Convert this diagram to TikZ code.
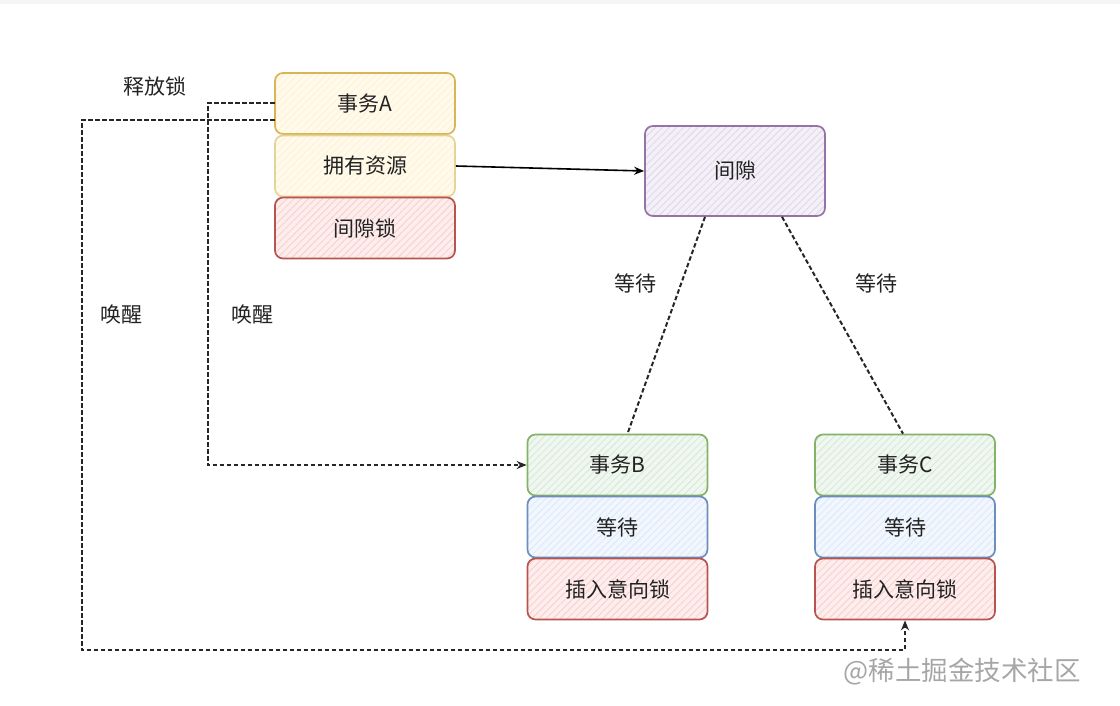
\documentclass[tikz,border=0pt]{standalone}
\usepackage{fontspec}
\setmainfont{Noto Sans CJK SC}
\usetikzlibrary{arrows.meta,patterns.meta}
\definecolor{yF}{HTML}{FFF2CC}\definecolor{yS}{HTML}{D6B656}
\definecolor{rF}{HTML}{F8CECC}\definecolor{rS}{HTML}{B85450}
\definecolor{pF}{HTML}{E1D5E7}\definecolor{pS}{HTML}{9673A6}
\definecolor{gF}{HTML}{D5E8D4}\definecolor{gS}{HTML}{82B366}
\definecolor{bF}{HTML}{DAE8FC}\definecolor{bS}{HTML}{6C8EBF}
\definecolor{txt}{HTML}{222222}
\tikzset{
  box/.style={draw=#1S, line width=1.7pt, rounded corners=8pt,
    minimum width=180pt, minimum height=61pt, text=txt, font=\fontsize{21pt}{24pt}\selectfont,
    preaction={fill=#1F!35},
    pattern={Lines[angle=45,distance=5pt,line width=0.8pt]}, pattern color=#1F},
  dashline/.style={draw=black!85, line width=2pt, dash pattern=on 4.5pt off 2.5pt},
  lbl/.style={text=txt, font=\fontsize{21pt}{24pt}\selectfont},
  tip/.style={-{Stealth[length=10pt,width=8pt]}}
}
\begin{document}
\begin{tikzpicture}[x=1pt,y=-1pt]
\useasboundingbox (0,0) rectangle (1120,705);
\fill[black!4] (0,0) rectangle (1120,4);
% boxes
\node[box=y] (A) at (365,103.5) {事务A};
\node[box=y, draw=yS!60] (A1) at (365,166) {拥有资源};
\node[box=r] (A2) at (365,228) {间隙锁};
\node[box=p, minimum height=90pt] (G) at (735,171) {间隙};
\node[box=g] (B) at (617.5,465) {事务B};
\node[box=b] (B1) at (617.5,527) {等待};
\node[box=r] (B2) at (617.5,589) {插入意向锁};
\node[box=g] (C) at (905,465) {事务C};
\node[box=b] (C1) at (905,527) {等待};
\node[box=r] (C2) at (905,589) {插入意向锁};
% solid arrow
\draw[line width=1.6pt, tip] (A1.east) -- (G.west);
% dashed connectors
\draw[dashline, tip] ([yshift=0.5pt]A.west) -- ++(-67,0) |- (B.west);
\draw[dashline, tip] ([yshift=-16.5pt]A.west) -- ++(-193,0) -- ++(0,530) -| (C2.south);
\draw[dashline] ([xshift=-30pt]G.south) -- ([xshift=10pt]B.north);
\draw[dashline] ([xshift=47pt]G.south) -- ([xshift=-2pt]C.north);
% labels
\node[lbl] (l1) at (155,86) {释放锁};
\node[lbl] (l2) at (121,314) {唤醒};
\node[lbl] (l3) at (252,314) {唤醒};
\node[lbl] (l4) at (635,283) {等待};
\node[lbl] (l5) at (876,283) {等待};
\node[text=black!35, font=\fontsize{26.5pt}{29pt}\selectfont] (wm) at (962,672) {@稀土掘金技术社区};
\end{tikzpicture}
\end{document}
